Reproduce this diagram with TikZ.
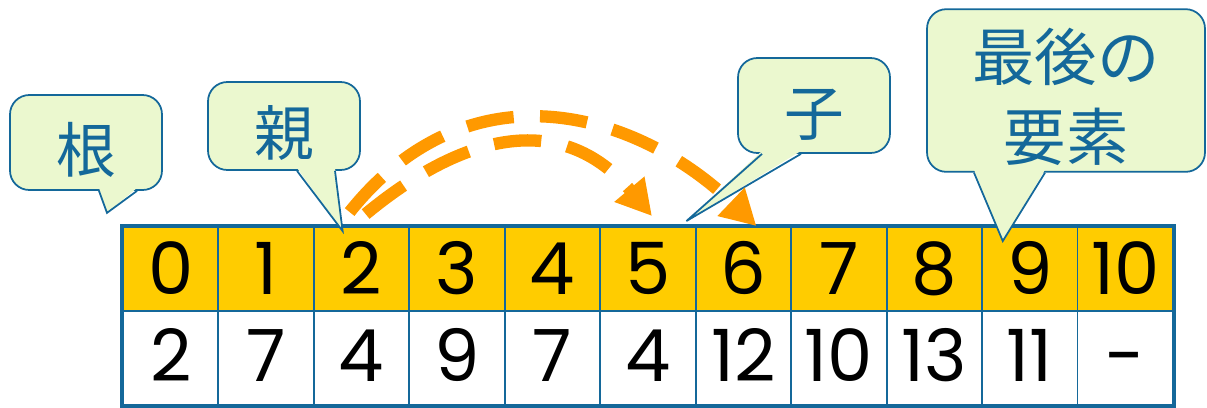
\documentclass[tikz,border=0pt]{standalone}
\usepackage{fontspec}
\setmainfont{Poppins}
\newfontfamily\jpfont{Noto Sans CJK JP}
\usepackage{tikz}
\usetikzlibrary{arrows.meta,calc}
\definecolor{heapblue}{HTML}{14689A}
\definecolor{heapgold}{HTML}{FFCC00}
\definecolor{heaporange}{HTML}{FF9900}
\definecolor{balloonfill}{HTML}{EBF8CF}
\tikzset{
  idxcell/.style={draw=heapblue, line width=1.1pt, fill=heapgold, minimum width=1.909cm, minimum height=1.68cm, inner sep=0pt, text height=29pt, text depth=0pt, font=\fontsize{41}{44}\selectfont},
  valcell/.style={idxcell, fill=white, minimum height=1.88cm, text height=27pt},
  balloon/.style={draw=heapblue, fill=balloonfill, line width=1pt, rounded corners=11pt, align=center, text=heapblue, font=\jpfont\fontsize{34}{46}\selectfont},
  balloonedge/.style={draw=heapblue, line width=1pt, line join=miter},
  jump/.style={heaporange, line width=7pt, dash pattern=on 27pt off 15pt, -{Triangle[length=20pt,width=21pt]}}
}

\begin{document}
\begin{tikzpicture}[x=0.02cm, y=-0.02cm]
  \useasboundingbox (0,0) rectangle (1207,407);

  % index row and value row
  \foreach \i/\v in {0/2,1/7,2/4,3/9,4/7,5/4,6/12,7/10,8/13,9/11,10/-} {
    \node[idxcell] (idx\i) at ({123+(\i+0.5)*95.45},269) {\i};
    \node[valcell] (val\i) at ({123+(\i+0.5)*95.45},358) {\v};
  }
  \draw[heapblue, line width=2.3pt] (idx0.north west) rectangle (val10.south east);

  % balloons
  \node[balloon, minimum width=3.04cm, minimum height=1.9cm, text height=34pt, text depth=0pt] (rootbox) at (86,142.5) {根};
  \node[balloon, minimum width=3.04cm, minimum height=1.76cm, text height=34pt, text depth=0pt] (parentbox) at (284,126) {親};
  \node[balloon, minimum width=3.04cm, minimum height=1.9cm, text height=34pt, text depth=0pt] (childbox) at (814,105.5) {子};
  \node[balloon, minimum width=5.56cm, minimum height=3.22cm, text height=83pt, font=\jpfont\fontsize{35.5}{46}\selectfont] (lastbox) at (1066,90.5) {最後の\\要素};

  \coordinate (roottip) at ($(rootbox.south)+(21,22)$);
  \coordinate (parenttip) at ($(idx2.north)+(-19,5)$);
  \coordinate (childtip) at ($(idx6.north)+(-57,-5)$);
  \coordinate (lasttip) at ($(idx9.north)+(-27,15)$);

  \fill[balloonfill] ($(rootbox.south)+(13,-3)$) -- (roottip) -- ($(rootbox.south)+(51,-3)$) -- cycle;
  \draw[balloonedge] ($(rootbox.south)+(13,0)$) -- (roottip) -- ($(rootbox.south)+(51,0)$);
  \fill[balloonfill] ($(parentbox.south)+(13,-3)$) -- (parenttip) -- ($(parentbox.south)+(51,-3)$) -- cycle;
  \draw[balloonedge] ($(parentbox.south)+(13,0)$) -- (parenttip) -- ($(parentbox.south)+(51,0)$);
  \fill[balloonfill] ($(childbox.south)+(-52,-3)$) -- (childtip) -- ($(childbox.south)+(-13,-3)$) -- cycle;
  \draw[balloonedge] ($(childbox.south)+(-52,0)$) -- (childtip) -- ($(childbox.south)+(-13,0)$);
  \fill[balloonfill] ($(lastbox.south)+(-92,-3)$) -- (lasttip) -- ($(lastbox.south)+(-21,-3)$) -- cycle;
  \draw[balloonedge] ($(lastbox.south)+(-92,0)$) -- (lasttip) -- ($(lastbox.south)+(-21,0)$);

  % parent to children
  \coordinate (jumpouter) at ($(idx2.north)+(-12,-14)$);
  \coordinate (jumpinner) at ($(idx2.north)+(4,-12)$);
  \draw[jump] (jumpouter) .. controls +(120,-150) and +(-120,-115) .. ($(idx6.north)+(13,0)$);
  \draw[jump] (jumpinner) .. controls +(115,-95) and +(-80,-95) .. ($(idx5.north)+(4,-10)$);
\end{tikzpicture}
\end{document}
